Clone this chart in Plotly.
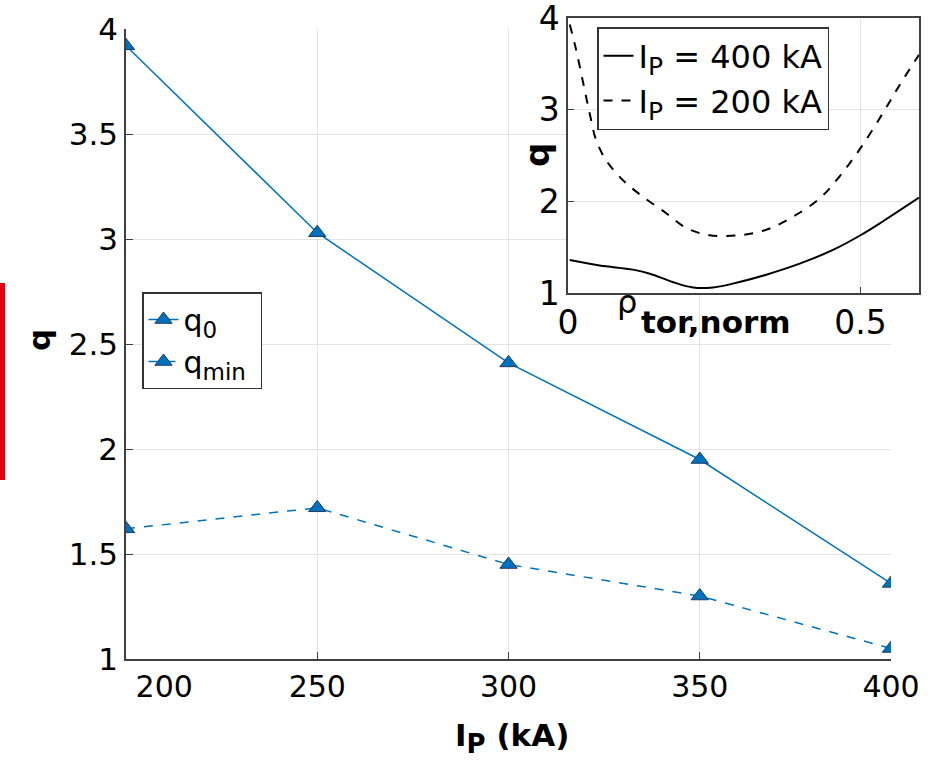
import plotly.graph_objects as go

# main data
ip_ka = [200, 250, 300, 350, 400]
ip_ticktext = ["\u2007\u2007\u2007\u2007200", "250", "300", "350", "400"]
q0 = [3.92, 3.03, 2.41, 1.95, 1.36]
qmin = [1.62, 1.72, 1.45, 1.30, 1.05]

# inset data
rho_400 = [0.003, 0.054, 0.111, 0.14, 0.179, 0.214, 0.248, 0.293, 0.339, 0.396, 0.453, 0.5, 0.538, 0.6]
q_400 = [1.36, 1.30, 1.255, 1.21, 1.12, 1.06, 1.06, 1.12, 1.20, 1.32, 1.47, 1.63, 1.78, 2.04]
rho_200 = [0.003, 0.014, 0.026, 0.037, 0.048, 0.065, 0.094, 0.128, 0.168, 0.202, 0.242, 0.293,
           0.339, 0.384, 0.43, 0.464, 0.5, 0.538, 0.567, 0.6]
q_200 = [3.93, 3.65, 3.29, 2.96, 2.67, 2.45, 2.23, 2.05, 1.87, 1.71, 1.63, 1.63,
         1.69, 1.83, 2.03, 2.27, 2.58, 2.96, 3.27, 3.60]

W, H = 938, 765
FONT = "DejaVu Sans"
BLUE = "#0072BD"

def px(x):
    return x / W

def py(y):
    return 1 - y / H

def sub(s, size):
    return "<sub><span style='font-size:%dpx'>%s</span></sub>" % (size, s)

fig = go.Figure()
fig.add_trace(go.Scatter(
    x=ip_ka, y=q0, mode="lines+markers", name="q" + sub("0", 23) + " ",
    line=dict(color=BLUE, width=1.5),
    marker=dict(symbol="triangle-up", size=15, color=BLUE, line=dict(color="#1b3b66", width=1)),
    xaxis="x", yaxis="y", legend="legend"))
fig.add_trace(go.Scatter(
    x=ip_ka, y=qmin, mode="lines+markers", name="q" + sub("min", 23) + " ",
    line=dict(color=BLUE, width=1.5, dash="dash"),
    marker=dict(symbol="triangle-up", size=15, color=BLUE, line=dict(color="#1b3b66", width=1)),
    xaxis="x", yaxis="y", legend="legend"))

fig.add_trace(go.Scatter(
    x=rho_400, y=q_400, mode="lines", name="I" + sub("P", 25) + " = 400 kA",
    line=dict(color="black", width=2, shape="spline"),
    xaxis="x2", yaxis="y2", legend="legend2"))
fig.add_trace(go.Scatter(
    x=rho_200, y=q_200, mode="lines", name="I" + sub("P", 25) + " = 200 kA",
    line=dict(color="black", width=2, dash="dash", shape="spline"),
    xaxis="x2", yaxis="y2", legend="legend2"))

grid = "#e3e3e3"
axcol = "#404040"

common = dict(showgrid=True, gridcolor=grid, showline=True, linecolor=axcol, linewidth=1.5,
              ticks="inside", tickcolor=axcol, zeroline=False, automargin=False,
              ticklabeloverflow="allow")

fig.update_layout(
    width=W, height=H,
    margin=dict(l=0, r=0, t=0, b=0, autoexpand=False),
    paper_bgcolor="white", plot_bgcolor="white",
    font=dict(family=FONT, color="black"),
    xaxis=dict(domain=[px(126), px(891)], range=[200, 400], tickvals=ip_ka, ticktext=ip_ticktext,
               ticklen=7, tickfont=dict(size=30, family=FONT), anchor="y", **common),
    yaxis=dict(domain=[py(659), py(29)], range=[1, 4], dtick=0.5, tick0=1,
               ticklen=7, tickfont=dict(size=31, family=FONT), anchor="x", **common),
    xaxis2=dict(domain=[px(568), px(919)], range=[0, 0.6], tickvals=[0, 0.5], ticktext=["0", "0.5"],
                mirror=True, ticklen=6, tickfont=dict(size=33, family=FONT), anchor="y2", **common),
    yaxis2=dict(domain=[py(293), py(18)], range=[1, 4], tickvals=[1, 2, 3, 4],
                mirror=True, ticklen=6, tickfont=dict(size=33, family=FONT), anchor="x2", **common),
    legend=dict(x=px(142), y=py(292), xanchor="left", yanchor="top",
                bgcolor="white", bordercolor="#333333", borderwidth=1.5,
                font=dict(size=30, family=FONT), tracegroupgap=0),
    legend2=dict(x=px(597), y=py(27), xanchor="left", yanchor="top",
                 bgcolor="white", bordercolor="#333333", borderwidth=1.5,
                 font=dict(size=32, family=FONT), tracegroupgap=0),
    showlegend=True,
)

# red bar on the left edge
fig.add_shape(type="rect", xref="paper", yref="paper", x0=0, x1=px(5), y0=py(480), y1=py(283),
              fillcolor="#e60012", line=dict(width=0), layer="above")

ann = [
    dict(text="<b>q</b>", x=px(39), y=py(340), textangle=-90, font=dict(size=31)),
    dict(text="<b>I" + sub("P", 26) + " (kA)</b>", x=px(512), y=py(738), font=dict(size=31)),
    dict(text="<b>q</b>", x=px(537), y=py(155), textangle=-90, font=dict(size=34)),
    dict(text="ρ", x=px(627), y=py(302), font=dict(size=32)),
    dict(text="<b>tor,norm</b>", x=px(716), y=py(322), font=dict(size=31)),
]
for a in ann:
    fig.add_annotation(xref="paper", yref="paper", showarrow=False, xanchor="center", yanchor="middle",
                       **a)

fig.write_html("out.html")
